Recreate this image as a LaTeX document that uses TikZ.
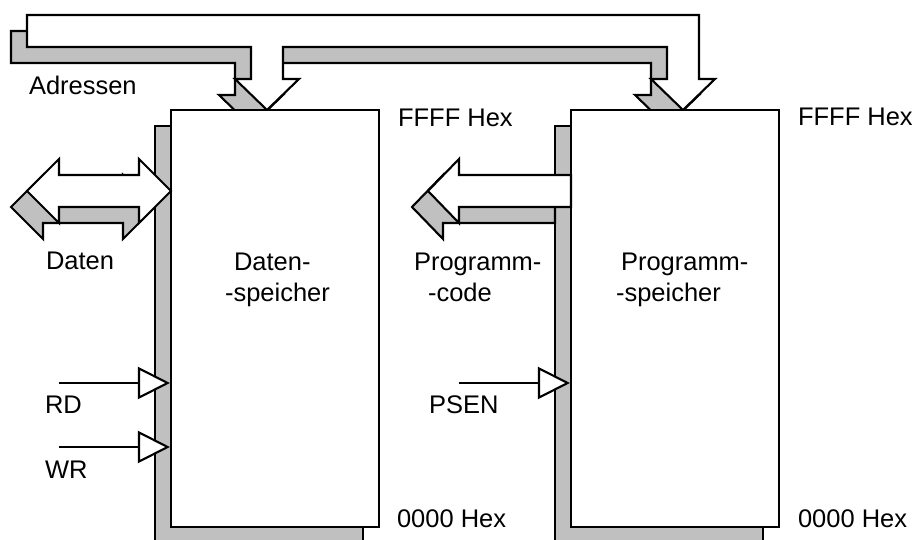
\documentclass[tikz,border=0pt]{standalone}
\usepackage{fontspec}
\setmainfont{Liberation Sans}
\usepackage{tikz}
\usetikzlibrary{positioning, calc, arrows.meta, shadows}
\definecolor{shadegray}{RGB}{192,192,192}
\tikzstyle{shaded}=[draw, fill=white,
  general shadow={draw=black, fill=shadegray, shadow xshift=-0.32cm, shadow yshift=-0.32cm}]
\tikzstyle{memory}=[shaded, minimum width=4.16cm, minimum height=8.34cm, inner sep=0pt]
\tikzstyle{signal}=[-{Triangle[length=0.64cm, width=0.64cm, fill=white]}]
\tikzstyle{lbl}=[inner sep=0pt, anchor=base west, align=left]

\begin{document}
\begin{tikzpicture}[x=0.02cm, y=-0.02cm, line width=1.2pt, line join=miter,
    font=\fontsize{14.5}{18}\selectfont]
  \useasboundingbox (0,0) rectangle (916,540);
  \clip (0,0) rectangle (916,540);

  % address bus, forks down to both memories
  \draw[shaded] (27,15) -- (699,15) -- (699,79) -- (715,79) -- (683,110)
    -- (651,79) -- (667,79) -- (667,47) -- (283,47) -- (283,79) -- (299,79)
    -- (267,110) -- (235,79) -- (251,79) -- (251,47) -- (27,47) -- cycle;
  \node[lbl] (adr) at (28,95) {Adressen};

  % memories
  \node[memory] (dmem) at (275,318.5) {};
  \node[memory] (pmem) at (675,318.5) {};
  % two-line labels: base anchor sits on the last line
  \node[lbl] (dmemtext) at (233,302) {Daten-\\\hspace*{-0.18cm}-speicher};
  \node[lbl] (pmemtext) at (620,302) {Programm-\\\hspace*{-0.1cm}-speicher};
  \node[lbl] (dtop) at (397,127) {FFFF Hex};
  \node[lbl] (dbot) at (396,527) {0000 Hex};
  \node[lbl] (ptop) at (797,126) {FFFF Hex};
  \node[lbl] (pbot) at (797,527) {0000 Hex};

  % data bus (both ways) and code bus (out only)
  \draw[shaded] (27,191) -- (59,159) -- (59,175) -- (139,175) -- (139,159)
    -- (171,191) -- (139,223) -- (139,207) -- (59,207) -- (59,223) -- cycle;
  \node[lbl] (daten) at (45,270) {Daten};
  \draw[shaded] (571,175) -- (459,175) -- (459,159) -- (428,191) -- (459,223)
    -- (459,207) -- (571,207) -- cycle;
  \node[lbl] (pcode) at (413,302) {Programm-\\\hspace*{0.28cm}-code};

  % control lines
  \coordinate (rdin) at (59,383);
  \coordinate (wrin) at (59,447);
  \coordinate (psenin) at (459,383);
  \draw[signal] (rdin) -- (rdin -| dmem.west);
  \draw[signal] (wrin) -- (wrin -| dmem.west);
  \draw[signal] (psenin) -- (psenin -| pmem.west);
  \node[lbl] (rd) at (44,414) {RD};
  \node[lbl] (wr) at (44,478) {WR};
  \node[lbl] (psen) at (428,414) {PSEN};
\end{tikzpicture}
\end{document}
